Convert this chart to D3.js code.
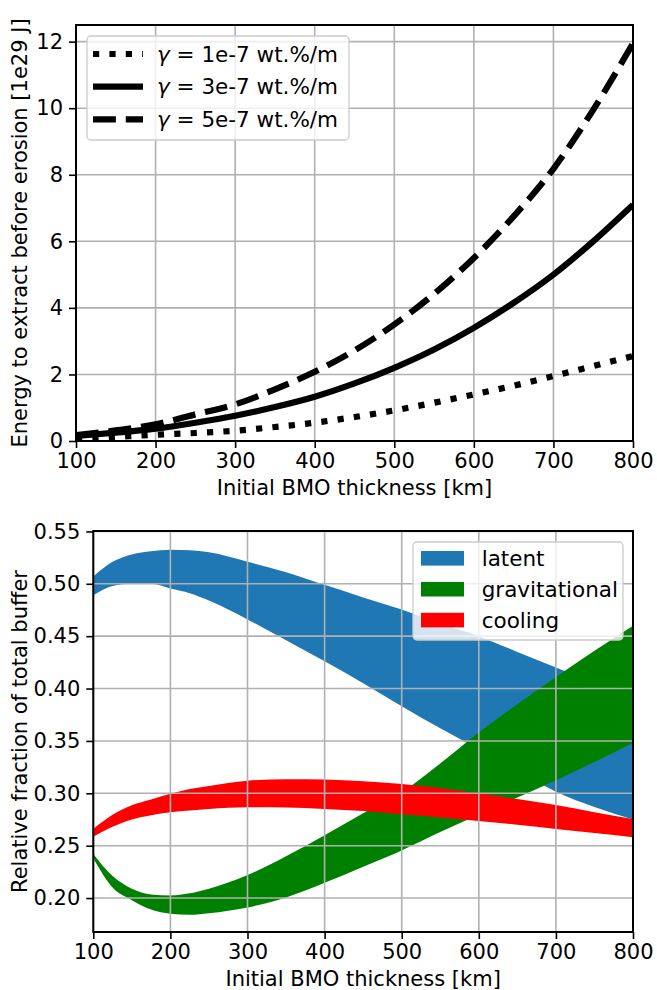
<!DOCTYPE html>
<html>
<head>
<meta charset="utf-8">
<script src="https://cdn.jsdelivr.net/npm/d3@7"></script>
<style>
  body { margin: 0; background: #fff; }
  text { font-family: "DejaVu Sans", sans-serif; fill: #000; }
</style>
</head>
<body>
<svg id="chart" width="657" height="990"></svg>
<script>
// top panel data
const thickTop = [100, 150, 200, 250, 300, 350, 400, 450, 500, 550, 600, 650, 700, 750, 800];
const energy1 = [0.05, 0.12, 0.19, 0.24, 0.31, 0.42, 0.55, 0.72, 0.92, 1.15, 1.4, 1.66, 1.95, 2.25, 2.55];
const energy3 = [0.15, 0.25, 0.37, 0.55, 0.76, 1.02, 1.33, 1.73, 2.2, 2.75, 3.4, 4.15, 5.0, 6.0, 7.1];
const energy5 = [0.18, 0.32, 0.5, 0.8, 1.1, 1.55, 2.08, 2.72, 3.5, 4.42, 5.5, 6.75, 8.18, 9.95, 11.95];
const gammaLabels = ["1e-7", "3e-7", "5e-7"];

// bottom panel data (lower / upper edge of each band)
const thickBot = [100, 125, 150, 175, 200, 225, 250, 300, 350, 400, 450, 500, 550, 600, 650, 700, 750, 800];
const latentLo = [0.489, 0.498, 0.500, 0.500, 0.4955, 0.491, 0.484, 0.466, 0.446, 0.426, 0.405, 0.383, 0.362, 0.342, 0.322, 0.3015, 0.287, 0.275];
const latentHi = [0.507, 0.521, 0.528, 0.531, 0.5325, 0.532, 0.530, 0.521, 0.511, 0.499, 0.487, 0.4755, 0.462, 0.450, 0.435, 0.420, 0.405, 0.390];
const gravLo = [0.238, 0.210, 0.198, 0.189, 0.185, 0.184, 0.1855, 0.191, 0.2005, 0.2145, 0.230, 0.2455, 0.263, 0.2795, 0.296, 0.3125, 0.330, 0.348];
const gravHi = [0.242, 0.221, 0.209, 0.2035, 0.2025, 0.2045, 0.209, 0.222, 0.240, 0.260, 0.281, 0.301, 0.3285, 0.358, 0.385, 0.411, 0.436, 0.460];
const coolLo = [0.2585, 0.268, 0.275, 0.279, 0.2818, 0.2835, 0.285, 0.2866, 0.2865, 0.285, 0.283, 0.280, 0.277, 0.2735, 0.270, 0.266, 0.262, 0.258];
const coolHi = [0.266, 0.2795, 0.2885, 0.294, 0.2995, 0.304, 0.307, 0.312, 0.3135, 0.3132, 0.3115, 0.309, 0.305, 0.300, 0.2945, 0.2888, 0.282, 0.2755];
const bandNames = ["latent", "gravitational", "cooling"];
const bandColors = ["#1f77b4", "#008000", "#ff0000"];

const xTicks = [100, 200, 300, 400, 500, 600, 700, 800];
const yTicksTop = [0, 2, 4, 6, 8, 10, 12];
const yTicksBot = [0.20, 0.25, 0.30, 0.35, 0.40, 0.45, 0.50, 0.55];

const svg = d3.select("#chart");
const FS = 21;      // ticks + axis labels
const FS_LEG = 21.5; // legend text

function frame(g, x, y, xt, yt, yfmt, xlabel, ylabel, id) {
  const [x0, x1] = x.range();
  const [y0, y1] = y.range();
  // clip
  svg.append("clipPath").attr("id", id)
    .append("rect").attr("x", x0).attr("y", y1).attr("width", x1 - x0).attr("height", y0 - y1);

  const xa = g.append("g").attr("transform", `translate(0,${y0})`)
    .call(d3.axisBottom(x).tickValues(xt).tickSize(7).tickPadding(5).tickFormat(d3.format("d")));
  const ya = g.append("g").attr("transform", `translate(${x0},0)`)
    .call(d3.axisLeft(y).tickValues(yt).tickSize(7).tickPadding(6).tickFormat(yfmt));
  [xa, ya].forEach(a => {
    a.select(".domain").remove();
    a.selectAll("line").attr("stroke", "#000").attr("stroke-width", 1.6);
    a.selectAll("text").attr("font-size", FS).style("font-family", "DejaVu Sans");
  });

  g.append("text").attr("x", (x0 + x1) / 2).attr("y", y0 + 54)
    .attr("text-anchor", "middle").attr("font-size", FS).text(xlabel);
  g.append("text").attr("transform", `translate(27,${(y0 + y1) / 2}) rotate(-90)`)
    .attr("text-anchor", "middle").attr("font-size", FS).text(ylabel);
}

function grid(g, x, y, xt, yt) {
  const [x0, x1] = x.range();
  const [y0, y1] = y.range();
  g.selectAll(".gx").data(xt).enter().append("line")
    .attr("x1", d => x(d)).attr("x2", d => x(d)).attr("y1", y1).attr("y2", y0)
    .attr("stroke", "#b0b0b0").attr("stroke-width", 1.6);
  g.selectAll(".gy").data(yt).enter().append("line")
    .attr("x1", x0).attr("x2", x1).attr("y1", d => y(d)).attr("y2", d => y(d))
    .attr("stroke", "#b0b0b0").attr("stroke-width", 1.6);
}

function border(g, x, y) {
  const [x0, x1] = x.range();
  const [y0, y1] = y.range();
  g.append("rect").attr("x", x0).attr("y", y1).attr("width", x1 - x0).attr("height", y0 - y1)
    .attr("fill", "none").attr("stroke", "#000").attr("stroke-width", 2);
}

// ---------- top panel ----------
const xT = d3.scaleLinear().domain([100, 800]).range([76, 633]);
const yT = d3.scaleLinear().domain([0, 12.5]).range([441, 25]);
const gT = svg.append("g");
grid(gT, xT, yT, xTicks, yTicksTop);

const lineT = d3.line().x(d => xT(d[0])).y(d => yT(d[1])).curve(d3.curveMonotoneX);
const topSeries = [energy1, energy3, energy5];
const dashes = ["6.2,10.2", null, "22.9,9.9"];
const curves = gT.append("g").attr("clip-path", "url(#clipT)");
topSeries.forEach((s, i) => {
  curves.append("path")
    .datum(thickTop.map((t, j) => [t, s[j]]))
    .attr("d", lineT)
    .attr("fill", "none").attr("stroke", "#000").attr("stroke-width", 6.2)
    .attr("stroke-dasharray", dashes[i]);
});
border(gT, xT, yT);
frame(gT, xT, yT, xTicks, yTicksTop, d3.format("d"),
  "Initial BMO thickness [km]", "Energy to extract before erosion [1e29 J]", "clipT");

// legend top
const legT = gT.append("g");
legT.append("rect").attr("x", 87).attr("y", 36).attr("width", 262).attr("height", 104).attr("rx", 4)
  .attr("fill", "#fff").attr("fill-opacity", 0.8).attr("stroke", "#cccccc").attr("stroke-width", 1.3);
gammaLabels.forEach((lab, i) => {
  const cy = 54 + i * 32.7;
  legT.append("line").attr("x1", 93).attr("x2", 143).attr("y1", cy).attr("y2", cy)
    .attr("stroke", "#000").attr("stroke-width", 6.2).attr("stroke-dasharray", dashes[i]);
  const t = legT.append("text").attr("x", 157).attr("y", cy + 7.5).attr("font-size", FS_LEG);
  t.append("tspan").attr("font-style", "italic").text("γ");
  t.append("tspan").text(` = ${lab} wt.%/m`);
});

// ---------- bottom panel ----------
const xB = d3.scaleLinear().domain([100, 800]).range([93.3, 633]);
const yB = d3.scaleLinear().domain([0.1676, 0.5504]).range([932, 531]);
const gB = svg.append("g");

const areaB = d3.area().x(d => xB(d[0])).y0(d => yB(d[1])).y1(d => yB(d[2])).curve(d3.curveMonotoneX);
const bands = [[latentLo, latentHi], [gravLo, gravHi], [coolLo, coolHi]];
const fills = gB.append("g").attr("clip-path", "url(#clipB)");
bands.forEach((b, i) => {
  fills.append("path")
    .datum(thickBot.map((t, j) => [t, b[0][j], b[1][j]]))
    .attr("d", areaB)
    .attr("fill", bandColors[i]);
});
grid(gB, xB, yB, xTicks, yTicksBot);
border(gB, xB, yB);
frame(gB, xB, yB, xTicks, yTicksBot, d3.format(".2f"),
  "Initial BMO thickness [km]", "Relative fraction of total buffer", "clipB");

// legend bottom
const legB = gB.append("g");
legB.append("rect").attr("x", 413).attr("y", 542).attr("width", 210).attr("height", 98).attr("rx", 4)
  .attr("fill", "#fff").attr("fill-opacity", 0.8).attr("stroke", "#cccccc").attr("stroke-width", 1.3);
bandNames.forEach((name, i) => {
  const cy = 558.3 + i * 30.9;
  legB.append("rect").attr("x", 421).attr("y", cy - 7.3).attr("width", 43).attr("height", 14.6)
    .attr("fill", bandColors[i]);
  legB.append("text").attr("x", 481.7).attr("y", cy + 7.5).attr("font-size", FS_LEG).text(name);
});
</script>
</body>
</html>
